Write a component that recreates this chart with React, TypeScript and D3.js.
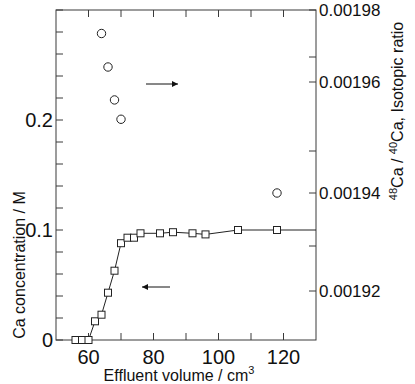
import React from "react";
import * as d3 from "d3";

const concX = [56, 58, 60, 62, 64, 66, 68, 70, 72, 74, 76, 82, 86, 92, 96, 106, 118];
const concY = [0, 0, 0, 0.017, 0.023, 0.043, 0.063, 0.088, 0.093, 0.093, 0.097, 0.097, 0.098, 0.097, 0.096, 0.1, 0.1];
const lineEndX = [130];
const lineEndY = [0.1];
const ratioX = [64, 66, 68, 70, 118];
const ratioY = [0.001975, 0.001966, 0.0019574, 0.0019546, 0.00194];
const xTicks = [60, 70, 80, 90, 100, 110, 120];
const xTickLabels = [60, 80, 100, 120];
const yLeftTicks = d3.range(0, 0.3001, 0.02);
const yLeftLabels = [0, 0.1, 0.2];
// right axis as printed in the figure (tick spacing is not uniform there)
const yRightDomain = [0.00191, 0.00192, 0.00193, 0.00194, 0.00195, 0.00196, 0.00197, 0.00198];
const yRightTicks = [0.00192, 0.00193, 0.00194, 0.00195, 0.00196, 0.00197, 0.00198];
const yRightLabels = [0.00192, 0.00194, 0.00196, 0.00198];

const W = 415, H = 384;
const L = 56, R = 316, T = 10, B = 340;
const FONT = "Arial, 'Liberation Sans', Helvetica, sans-serif";
const AX = "#3a3a3a";

export default function App() {
  const x = d3.scaleLinear().domain([50, 130]).range([L, R]);
  const yL = d3.scaleLinear().domain([0, 0.3]).range([B, T]);
  const yR = d3.scaleLinear().domain(yRightDomain).range([B, 291, 246, 193, 151, 82, 57, T]);
  const pts = concX.map((v, i) => [v, concY[i]] as [number, number]).concat(
    lineEndX.map((v, i) => [v, lineEndY[i]] as [number, number])
  );
  const line = d3.line<[number, number]>().x(d => x(d[0])).y(d => yL(d[1]));
  const tl = 7;
  const sq = 7;
  const fmtL = (v: number) => (v === 0 ? "0" : d3.format(".1f")(v));
  const fmtR = (v: number) => d3.format(".5f")(v);
  return (
    <svg width={W} height={H} style={{ position: "absolute", left: 0, top: 0, background: "#fff" }} fontFamily={FONT}>
      <defs>
        <marker id="ah" viewBox="0 0 10 10" refX="10" refY="5" markerWidth="8" markerHeight="6" markerUnits="userSpaceOnUse" orient="auto">
          <path d="M0,0 L10,5 L0,10 z" fill="#111" />
        </marker>
      </defs>
      <rect x={L} y={T} width={R - L} height={B - T} fill="none" stroke={AX} strokeWidth={1} />
      {xTicks.map(t => (
        <g key={"xt" + t}>
          <line x1={x(t)} x2={x(t)} y1={B} y2={B - tl} stroke={AX} />
          <line x1={x(t)} x2={x(t)} y1={T} y2={T + tl} stroke={AX} />
        </g>
      ))}
      {xTickLabels.map(t => (
        <text key={"xl" + t} x={x(t)} y={364} fontSize={20} textAnchor="middle" fill="#111">{t}</text>
      ))}
      {yLeftTicks.map((t, i) => (
        <line key={"yl" + i} x1={L} x2={L + tl} y1={yL(t)} y2={yL(t)} stroke={AX} />
      ))}
      {yLeftLabels.map(t => (
        <text key={"yll" + t} x={53} y={yL(t)} dy="0.36em" fontSize={20} textAnchor="end" fill="#111">{fmtL(t)}</text>
      ))}
      {yRightTicks.map((t, i) => (
        <line key={"yr" + i} x1={R} x2={R - tl} y1={yR(t)} y2={yR(t)} stroke={AX} />
      ))}
      {yRightLabels.map(t => (
        <text key={"yrl" + t} x={319} y={yR(t)} dy="0.36em" fontSize={17} textAnchor="start" fill="#111">{fmtR(t)}</text>
      ))}
      <text x={179} y={381} fontSize={16} textAnchor="middle" fill="#111">
        Effluent volume / cm<tspan dy={-7} fontSize={11}>3</tspan>
      </text>
      <text transform="translate(25,265) rotate(-90)" fontSize={16} textAnchor="middle" fill="#111">Ca concentration / M</text>
      <text transform="translate(403,111) rotate(-90)" fontSize={16} textAnchor="middle" fill="#111">
        <tspan fontSize={11} dy={-6}>48</tspan><tspan dy={6}>Ca / </tspan><tspan fontSize={11} dy={-6}>40</tspan><tspan dy={6}>Ca, Isotopic ratio</tspan>
      </text>
      <path d={line(pts) || ""} fill="none" stroke="#222" strokeWidth={1} />
      {concX.map((v, i) => (
        <rect key={"s" + i} x={x(v) - sq / 2} y={yL(concY[i]) - sq / 2} width={sq} height={sq} fill="#fff" stroke="#222" strokeWidth={1} />
      ))}
      {ratioX.map((v, i) => (
        <circle key={"c" + i} cx={x(v)} cy={yR(ratioY[i])} r={4.2} fill="#fff" stroke="#222" strokeWidth={1} />
      ))}
      <line x1={146} x2={178} y1={84} y2={84} stroke="#111" strokeWidth={1} markerEnd="url(#ah)" />
      <line x1={170} x2={142} y1={287} y2={287} stroke="#111" strokeWidth={1} markerEnd="url(#ah)" />
    </svg>
  );
}
